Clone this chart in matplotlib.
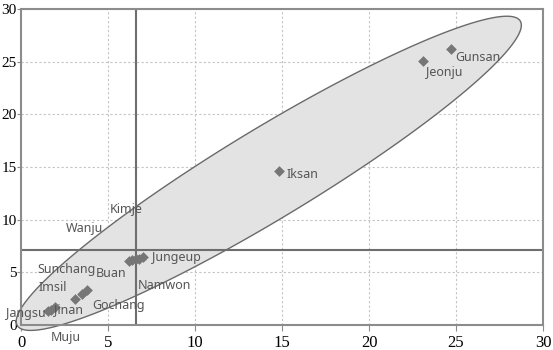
import numpy as np
import matplotlib
matplotlib.use("Agg")
import matplotlib.pyplot as plt
from matplotlib.patches import Polygon

# ---- data ----
cities = ["Gunsan", "Jeonju", "Iksan", "Jungeup", "Kimje", "Namwon", "Buan", "Wanju",
          "Gochang", "Sunchang", "Imsil", "Jinan", "Jangsu", "Muju"]
x_vals = [24.7, 23.1, 14.8, 7.0, 6.6, 6.8, 6.2, 6.4, 3.8, 3.5, 3.1, 1.95, 1.55, 1.7]
y_vals = [26.2, 25.1, 14.6, 6.5, 6.3, 6.3, 6.1, 6.2, 3.3, 2.9, 2.5, 1.7, 1.3, 1.4]
ticks = [0, 5, 10, 15, 20, 25, 30]
x_ref = 6.6
y_ref = 7.1

# label offsets in pixels and alignment (style)
offsets = {
    "Gunsan": (4, -8, "left"), "Jeonju": (3, -12, "left"), "Iksan": (8, -3, "left"),
    "Jungeup": (9, -1, "left"), "Kimje": (-26, 49, "left"), "Namwon": (-2, -27, "left"),
    "Buan": (-33, -13, "left"), "Wanju": (-67, 31, "left"), "Gochang": (5, -15, "left"),
    "Sunchang": (-45, 25, "left"), "Imsil": (-36, 11, "left"),
    "Jinan": (-1, -2, "left"), "Jangsu": (-2, -2, "right"), "Muju": (0, -27, "left"),
}

fig = plt.figure(figsize=(5.53, 3.5), dpi=100)
ax = fig.add_axes([21/553, 1 - 325/350, (543-21)/553, (325-9)/350])
ax.set_xlim(0, 30)
ax.set_ylim(0, 30)

# ellipse (defined in pixel-like units then converted to data units)
sx = (543 - 21) / 30.0
sy = (325 - 9) / 30.0
cx, cy = 14.24, 14.4
a, b = 294, 45
ang = np.deg2rad(31.2)
t = np.linspace(0, 2*np.pi, 400)
px = a*np.cos(t)*np.cos(ang) - b*np.sin(t)*np.sin(ang)
py = a*np.cos(t)*np.sin(ang) + b*np.sin(t)*np.cos(ang)
ell = Polygon(np.column_stack([cx + px/sx, cy + py/sy]), closed=True,
              facecolor="#e3e3e3", edgecolor="#6a6a6a", linewidth=1.0,
              zorder=1, clip_on=False)
ax.add_patch(ell)

ax.set_xticks(ticks)
ax.set_yticks(ticks)
ax.grid(True, linestyle=(0, (2, 2)), color="#c4c4c4", linewidth=0.8, zorder=0)
ax.set_axisbelow(True)

ax.axvline(x_ref, color="#6e6e6e", linewidth=1.5, zorder=2)
ax.axhline(y_ref, color="#6e6e6e", linewidth=1.5, zorder=2)

ax.scatter(x_vals, y_vals, marker="D", s=30, color="#767676", zorder=3, linewidths=0)

for c, xv, yv in zip(cities, x_vals, y_vals):
    dx, dy, ha = offsets[c]
    ax.annotate(c, (xv, yv), xytext=(dx, dy), textcoords="offset pixels",
                fontsize=9, color="#555555", family="Noto Sans",
                va="center", ha=ha, zorder=4, annotation_clip=False)

for s in ax.spines.values():
    s.set_color("#8c8c8c")
    s.set_linewidth(1.5)

ax.tick_params(axis="x", length=4, color="#8c8c8c", labelsize=12, pad=3)
ax.tick_params(axis="y", length=3, color="#8c8c8c", labelsize=11, pad=0)
for lab in ax.get_xticklabels() + ax.get_yticklabels():
    lab.set_family("Liberation Serif")

fig.savefig("out.png", dpi=100)
